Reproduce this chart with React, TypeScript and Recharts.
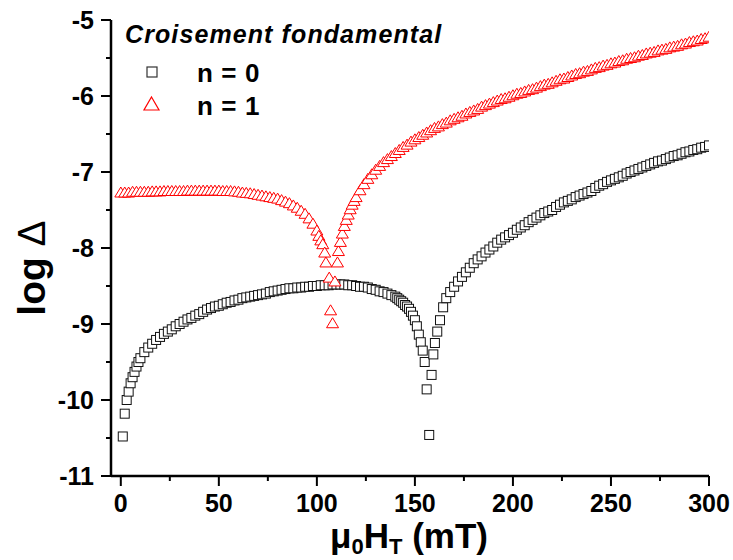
import React from 'react';
import { ScatterChart, Scatter, XAxis, YAxis } from 'recharts';

const FONT = '"Liberation Sans", Arial, Helvetica, sans-serif';

// n = 0 (black squares): field (mT) and log Δ
const fieldN0 = [
  1, 2, 3, 4, 5, 6, 7, 8, 9, 10, 12, 14, 16, 18, 20, 22, 24, 26, 28, 30, 32, 34, 36, 38, 40,
  42, 44, 46, 48, 50, 52, 54, 56, 58, 60, 62, 64, 66, 68, 70, 72, 74, 76, 78, 80, 82, 84, 86,
  88, 90, 92, 94, 96, 98, 100, 102, 104, 106, 108, 110, 112, 114, 116, 118, 120, 122, 124,
  126, 128, 130, 132, 134, 136, 138, 140, 141, 142, 143, 144, 145, 146, 147, 148, 149, 150,
  151, 152, 153, 154, 155, 156, 157.3, 158.5, 159.4, 160.2, 161.4, 162.8, 164.4, 166, 168,
  170, 172, 174, 176, 178, 180, 182, 184, 186, 188, 190, 192, 194, 196, 198, 200, 202, 204,
  206, 208, 210, 212, 214, 216, 218, 220, 222, 224, 226, 228, 230, 232, 234, 236, 238, 240,
  242, 244, 246, 248, 250, 252, 254, 256, 258, 260, 262, 264, 266, 268, 270, 272, 274, 276,
  278, 280, 282, 284, 286, 288, 290, 292, 294, 296, 298, 300,
];
const logDeltaN0 = [
  -10.48, -10.18, -10.0, -9.89, -9.78, -9.7, -9.63, -9.56, -9.5, -9.45, -9.37, -9.31, -9.26,
  -9.21, -9.17, -9.13, -9.1, -9.07, -9.03, -9.0, -8.97, -8.94, -8.92, -8.89, -8.87, -8.84,
  -8.81, -8.79, -8.77, -8.76, -8.74, -8.72, -8.71, -8.69, -8.68, -8.66, -8.65, -8.64, -8.63,
  -8.62, -8.61, -8.6, -8.58, -8.57, -8.56, -8.55, -8.54, -8.53, -8.53, -8.52, -8.52, -8.51,
  -8.51, -8.5, -8.5, -8.49, -8.49, -8.49, -8.48, -8.48, -8.48, -8.48, -8.49, -8.49, -8.5,
  -8.51, -8.51, -8.52, -8.54, -8.55, -8.57, -8.58, -8.6, -8.62, -8.64, -8.66, -8.68, -8.7,
  -8.72, -8.75, -8.77, -8.8, -8.84, -8.89, -8.95, -9.03, -9.14, -9.24, -9.35, -9.5, -9.86,
  -10.46, -9.67, -9.4, -9.25, -9.1, -8.95, -8.78, -8.66, -8.58, -8.51, -8.44, -8.38, -8.32,
  -8.26, -8.2, -8.15, -8.11, -8.06, -8.02, -7.98, -7.93, -7.89, -7.86, -7.83, -7.8, -7.76,
  -7.73, -7.7, -7.66, -7.63, -7.6, -7.57, -7.54, -7.52, -7.5, -7.46, -7.43, -7.4, -7.38,
  -7.36, -7.33, -7.31, -7.29, -7.27, -7.25, -7.21, -7.18, -7.16, -7.13, -7.11, -7.09, -7.07,
  -7.05, -7.02, -7.0, -6.98, -6.96, -6.94, -6.92, -6.9, -6.88, -6.86, -6.85, -6.83, -6.81,
  -6.79, -6.78, -6.76, -6.74, -6.73, -6.71, -6.7, -6.68, -6.67, -6.65,
];

// n = 1 (red triangles): field (mT) and log Δ
const fieldN1 = [
  0, 2, 4, 6, 8, 10, 12, 14, 16, 18, 20, 22, 24, 26, 28, 30, 32, 34, 36, 38, 40, 42, 44, 46,
  48, 50, 52, 54, 56, 58, 60, 62, 64, 66, 68, 70, 72, 74, 76, 78, 80, 82, 84, 86, 88, 90, 92,
  94, 96, 98, 100, 101, 102, 103, 104, 104.6, 106.3, 107, 108, 109.2, 110.5, 111, 112, 113,
  114, 115, 116, 117, 118, 119, 120, 122, 124, 126, 128, 130, 132, 134, 136, 138, 140, 142,
  144, 146, 148, 150, 152, 154, 156, 158, 160, 162, 164, 166, 168, 170, 172, 174, 176, 178,
  180, 182, 184, 186, 188, 190, 192, 194, 196, 198, 200, 202, 204, 206, 208, 210, 212, 214,
  216, 218, 220, 222, 224, 226, 228, 230, 232, 234, 236, 238, 240, 242, 244, 246, 248, 250,
  252, 254, 256, 258, 260, 262, 264, 266, 268, 270, 272, 274, 276, 278, 280, 282, 284, 286,
  288, 290, 292, 294, 296, 298, 300,
];
const logDeltaN1 = [
  -7.27, -7.27, -7.27, -7.26, -7.26, -7.26, -7.26, -7.26, -7.255, -7.255, -7.255, -7.25,
  -7.25, -7.25, -7.25, -7.25, -7.25, -7.245, -7.245, -7.245, -7.245, -7.245, -7.245, -7.245,
  -7.245, -7.245, -7.25, -7.25, -7.25, -7.255, -7.26, -7.27, -7.275, -7.28, -7.29, -7.3,
  -7.31, -7.32, -7.33, -7.34, -7.35, -7.37, -7.39, -7.41, -7.44, -7.47, -7.51, -7.55, -7.61,
  -7.68, -7.77, -7.84, -7.9, -7.95, -8.06, -8.19, -8.39, -8.82, -8.99, -8.44, -8.19, -8.04,
  -7.92, -7.81, -7.71, -7.63, -7.56, -7.49, -7.43, -7.38, -7.33, -7.24, -7.16, -7.09, -7.03,
  -6.97, -6.92, -6.87, -6.83, -6.79, -6.75, -6.71, -6.67, -6.64, -6.6, -6.57, -6.54, -6.51,
  -6.48, -6.45, -6.42, -6.4, -6.37, -6.35, -6.32, -6.3, -6.28, -6.26, -6.23, -6.21, -6.19,
  -6.17, -6.14, -6.12, -6.1, -6.08, -6.06, -6.04, -6.03, -6.01, -5.99, -5.97, -5.96, -5.94,
  -5.92, -5.91, -5.89, -5.87, -5.85, -5.84, -5.82, -5.8, -5.78, -5.77, -5.75, -5.73, -5.71,
  -5.7, -5.68, -5.67, -5.65, -5.63, -5.62, -5.6, -5.59, -5.57, -5.56, -5.54, -5.53, -5.51,
  -5.5, -5.49, -5.47, -5.46, -5.44, -5.43, -5.42, -5.4, -5.39, -5.38, -5.36, -5.35, -5.34,
  -5.32, -5.31, -5.29, -5.28, -5.27, -5.25, -5.24, -5.22,
];

const xMajorTicks = [0, 50, 100, 150, 200, 250, 300];
const xMinorTicks = [25, 75, 125, 175, 225, 275];
const yMajorTicks = [-11, -10, -9, -8, -7, -6, -5];
const yMinorTicks = [-10.5, -9.5, -8.5, -7.5, -6.5, -5.5];

const seriesNames = ['n = 0', 'n = 1'];
const legendTitle = 'Croisement fondamental';

const dataN0 = fieldN0.map((x, i) => ({ x, y: logDeltaN0[i] }));
const dataN1 = fieldN1.map((x, i) => ({ x, y: logDeltaN1[i] }));

const allXTicks = [...xMajorTicks, ...xMinorTicks].sort((a, b) => a - b);
const allYTicks = [...yMajorTicks, ...yMinorTicks].sort((a, b) => a - b);

const TICK_SIZE = 10;
const X_TICK_MARGIN = 8;
const Y_TICK_MARGIN = 7;

const XTick = (props: any) => {
  const { x, y, payload } = props;
  const v = payload.value;
  const major = xMajorTicks.includes(v);
  const axisY = y - TICK_SIZE - X_TICK_MARGIN;
  return (
    <g>
      <line x1={x} x2={x} y1={axisY} y2={axisY + (major ? 10 : 5)} stroke="#000" strokeWidth={2} />
      {major && (
        <text x={x} y={y} dy="0.71em" textAnchor="middle" fontFamily={FONT} fontWeight="bold" fontSize={25} fill="#000">
          {v}
        </text>
      )}
    </g>
  );
};

const YTick = (props: any) => {
  const { x, y, payload } = props;
  const v = payload.value;
  const major = yMajorTicks.includes(v);
  const axisX = x + TICK_SIZE + Y_TICK_MARGIN;
  return (
    <g>
      <line x1={axisX} x2={axisX - (major ? 10 : 5)} y1={y} y2={y} stroke="#000" strokeWidth={2} />
      {major && (
        <text x={x} y={y} dy="0.36em" textAnchor="end" fontFamily={FONT} fontWeight="bold" fontSize={25} fill="#000">
          {v}
        </text>
      )}
    </g>
  );
};

const Square = (props: any) => {
  const { cx, cy } = props;
  if (cx == null || cy == null) return <g />;
  return <rect x={cx - 4.5} y={cy - 4.5} width={9} height={9} fill="#fff" stroke="#111" strokeWidth={1} />;
};

const Triangle = (props: any) => {
  const { cx, cy } = props;
  if (cx == null || cy == null) return <g />;
  return (
    <path
      d={`M${cx},${cy - 5.5} L${cx + 6},${cy + 4.5} L${cx - 6},${cy + 4.5} Z`}
      fill="#fff"
      stroke="#ff0000"
      strokeWidth={1}
    />
  );
};

export default function App() {
  return (
    <div style={{ position: 'absolute', left: 0, top: 0, width: 733, height: 560, background: '#fff' }}>
      <ScatterChart width={733} height={560} margin={{ top: 20, right: 24, bottom: 0, left: 0 }}>
        <XAxis
          type="number"
          dataKey="x"
          domain={[-5, 300]}
          ticks={allXTicks}
          interval={0}
          allowDataOverflow
          height={84}
          tickSize={TICK_SIZE}
          tickMargin={X_TICK_MARGIN}
          tickLine={false}
          tick={<XTick />}
          axisLine={{ stroke: '#000', strokeWidth: 2.5 }}
        />
        <YAxis
          type="number"
          dataKey="y"
          domain={[-11, -5]}
          ticks={allYTicks}
          interval={0}
          allowDataOverflow
          width={111}
          tickSize={TICK_SIZE}
          tickMargin={Y_TICK_MARGIN}
          tickLine={false}
          tick={<YTick />}
          axisLine={{ stroke: '#000', strokeWidth: 2.5 }}
        />
        <Scatter name={seriesNames[0]} data={dataN0} shape={<Square />} isAnimationActive={false} />
        <Scatter name={seriesNames[1]} data={dataN1} shape={<Triangle />} isAnimationActive={false} />
      </ScatterChart>
      <svg width={733} height={560} style={{ position: 'absolute', left: 0, top: 0, pointerEvents: 'none' }}>
        <text
          x={125}
          y={43}
          fontFamily={FONT}
          fontWeight="bold"
          fontStyle="italic"
          fontSize={25}
          letterSpacing={1.1}
          fill="#000"
        >
          {legendTitle}
        </text>
        <rect x={147} y={67} width={10} height={10} fill="#fff" stroke="#333" strokeWidth={1.2} />
        <text x={197} y={82} fontFamily={FONT} fontWeight="bold" fontSize={26} letterSpacing={0.6} fill="#000">
          {seriesNames[0]}
        </text>
        <path d="M151.5,97 L159,110 L144,110 Z" fill="#fff" stroke="#ff0000" strokeWidth={1.2} />
        <text x={197} y={115} fontFamily={FONT} fontWeight="bold" fontSize={26} letterSpacing={0.6} fill="#000">
          {seriesNames[1]}
        </text>
        <text
          transform="translate(45,268) rotate(-90)"
          textAnchor="middle"
          fontFamily={FONT}
          fontWeight="bold"
          fontSize={39}
          fill="#000"
        >
          log <tspan fontWeight="normal">Δ</tspan>
        </text>
        <text x={409} y={548} textAnchor="middle" fontFamily={FONT} fontWeight="bold" fontSize={35} fill="#000">
          μ<tspan fontSize={22} dy={6}>0</tspan>
          <tspan dy={-6}>H</tspan>
          <tspan fontSize={22} dy={6}>T</tspan>
          <tspan dy={-6}> (mT)</tspan>
        </text>
      </svg>
    </div>
  );
}
